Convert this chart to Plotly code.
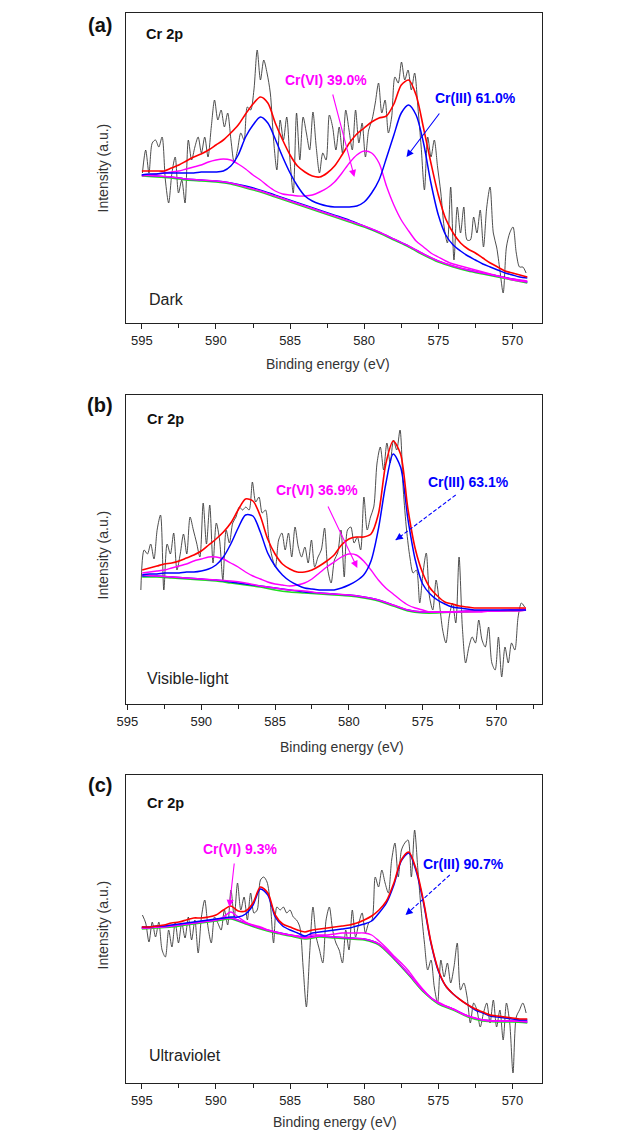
import numpy as np
import plotly.graph_objects as go

W, H = 620, 1133

# ---------------- data (intensity in arbitrary units) ----------------
# Panel (a) Dark
A_RAW_START, A_RAW_STEP = 594.96, 0.2212
A_RAW = [150, 173, 150, 180, 183, 176, 186, 143, 120, 150, 166, 130, 143, 120, 183, 163, 176, 186, 170, 186,
         166, 196, 223, 203, 213, 196, 210, 183, 160, 173, 190, 183, 216, 213, 233, 273, 243, 263, 250, 230,
         183, 153, 203, 183, 206, 163, 130, 210, 163, 206, 190, 173, 211, 176, 150, 170, 163, 208, 196, 173,
         196, 170, 213, 193, 173, 213, 180, 200, 166, 193, 203, 220, 240, 210, 223, 190, 206, 246, 240, 261,
         243, 253, 233, 250, 216, 176, 133, 186, 166, 183, 156, 130, 96, 80, 136, 63, 116, 90, 116, 83,
         83, 106, 90, 113, 76, 116, 136, 90, 76, 53, 30, 76, 90, 96, 70, 56, 56, 50]
A_FIT_START = 595.0
A_ENV = [152, 152, 152, 152, 155, 158, 162, 166, 169, 173, 178, 183, 190, 198, 209, 219, 226, 220, 200, 183,
         168, 157, 151, 147, 146, 150, 157, 168, 180, 189, 195, 201, 205, 207, 219, 238, 243, 228, 195, 160,
         128, 104, 90, 80, 74, 70, 65, 60, 56, 52, 50, 48, 46]
A_CR3 = [148, 149, 149, 150, 150, 150, 150, 150, 151, 151, 151, 152, 157, 168, 186, 198, 206, 200, 184, 166,
         150, 137, 127, 122, 119, 117, 116, 116, 116, 117, 121, 130, 143, 165, 188, 210, 218, 208, 180, 140,
         108, 88, 78, 72, 67, 63, 59, 56, 53, 50, 48, 46, 45]
A_CR6 = [147, 148, 149, 150, 151, 152, 154, 156, 158, 161, 163, 164, 163, 159, 154, 148, 143, 137, 132, 129,
         128, 127, 127, 128, 131, 135, 141, 150, 160, 168, 172, 170, 160, 137, 118, 103, 92, 82, 76, 70,
         66, 62, 59, 57, 55, 53, 51, 49, 47, 45, 43, 42, 41]
A_BG_GREEN = [147, 146, 145, 143, 142, 141, 139, 135, 131, 126, 121, 116, 111, 106, 101, 96, 90, 83, 76, 68,
              61, 56, 52, 49, 46, 43, 40]
A_BG_BLUE = [148, 147, 146, 144, 143, 142, 140, 137, 133, 128, 123, 118, 113, 108, 103, 97, 91, 84, 77, 69,
             62, 57, 53, 50, 47, 44, 41]
A_BG_MAG = [148, 147, 146, 144, 143, 142, 140, 136, 132, 127, 122, 117, 112, 107, 102, 97, 91, 84, 77, 69,
            62, 57, 53, 50, 47, 44, 42]

# Panel (b) Visible-light
B_RAW_START, B_RAW_STEP = 594.09, 0.2222
B_RAW = [114, 154, 150, 160, 145, 175, 189, 114, 160, 150, 171, 134, 150, 170, 150, 187, 174, 161, 147, 201,
         160, 199, 141, 181, 164, 124, 174, 161, 181, 187, 197, 194, 197, 194, 222, 202, 207, 191, 194, 165,
         147, 137, 164, 171, 154, 171, 147, 177, 157, 147, 157, 141, 164, 137, 147, 154, 176, 134, 121, 144,
         151,
         174, 127, 174, 177, 161, 167, 154, 207, 174, 187, 197, 241, 257, 234, 261, 241, 264, 254, 274, 214,
         174, 147, 131, 134, 101, 131, 151, 107, 94, 124, 101, 74, 61, 87, 101, 81, 147, 77, 41, 57,
         67, 61, 84, 64, 57, 77, 41, 34, 67, 27, 57, 41, 61, 54, 87, 101, 97]
B_FIT_START = 594.0
B_ENV = [134, 136, 138, 140, 141, 143, 146, 149, 153, 159, 165, 172, 181, 194, 205, 203, 188, 165, 150, 140,
         135, 132, 132, 134, 138, 143, 149, 159, 165, 167, 167, 170, 190, 240, 263, 250, 195, 155, 131, 116,
         108, 102, 100, 98, 97, 96, 96, 96, 96, 96, 96, 96, 96]
B_CR3 = [129, 130, 130, 131, 131, 131, 132, 132, 133, 135, 139, 147, 160, 176, 189, 188, 172, 151, 138, 129,
         123, 119, 116, 115, 114, 114, 114, 116, 119, 123, 129, 143, 175, 220, 250, 237, 185, 144, 120, 110,
         104, 100, 97, 96, 95, 94, 94, 94, 94, 94, 94, 94, 94]
B_CR6 = [131, 132, 133, 134, 136, 138, 140, 143, 145, 147, 147, 145, 141, 137, 132, 128, 125, 122, 120, 119,
         118, 119, 121, 125, 131, 137, 142, 147, 150, 149, 143, 134, 124, 116, 110, 104, 99, 96, 94, 92,
         92, 92, 92, 92, 92, 92, 92, 93, 93, 93, 93, 93, 94]
B_BG_GREEN = [127, 127, 126, 125, 124, 123, 121, 119, 117, 114, 112, 111, 110, 109, 108, 106, 103, 98, 93, 91,
              91, 92, 92, 93, 93, 93, 94]
B_BG_BLUE = [128, 128, 127, 126, 125, 124, 122, 120, 118, 116, 114, 112, 111, 110, 109, 107, 104, 99, 94, 92,
             92, 92, 93, 93, 93, 94, 94]
B_BG_MAG = [129, 128, 127, 126, 125, 124, 123, 121, 118, 116, 114, 113, 111, 110, 109, 107, 104, 99, 94, 92,
            92, 92, 93, 93, 93, 94, 95]

# Panel (c) Ultraviolet
C_RAW_START, C_RAW_STEP = 594.96, 0.2212
C_RAW = [168, 160, 141, 161, 146, 161, 133, 126, 153, 136, 161, 140, 160, 145, 166, 143, 163, 130, 166, 183,
         156, 140, 166, 160, 153, 173, 158, 193, 166, 200, 173, 186, 163, 190, 170, 173, 203, 206, 201, 180,
         140, 176, 173, 176, 170, 173, 166, 163, 156, 116, 76, 130, 176, 146, 133, 120, 163, 176, 153, 140,
         133, 120, 153, 133, 173, 146, 160, 170, 150, 160, 163, 206, 196, 213, 200, 190, 223, 240, 206, 233,
         240, 243, 206, 253, 213, 173, 140, 113, 123, 96, 80, 123, 106, 120, 100, 116, 140, 93, 100, 86,
         60, 80, 73, 56, 70, 80, 60, 83, 56, 73, 43, 80, 60, 10, 66, 73, 80, 70]
C_FIT_START = 595.0
C_ENV = [156, 156, 157, 158, 160, 161, 163, 165, 165, 166, 168, 173, 177, 172, 172, 180, 196, 190, 168, 159,
         156, 153, 151, 153, 154, 155, 156, 157, 158, 160, 163, 167, 173, 182, 200, 223, 231, 214, 182, 141,
         113, 97, 89, 83, 78, 74, 71, 68, 67, 66, 65, 64, 64]
C_CR3 = [156, 156, 157, 157, 158, 159, 160, 161, 162, 163, 164, 165, 166, 166, 169, 178, 194, 188, 166, 157,
         153, 150, 147, 150, 151, 152, 153, 154, 155, 157, 159, 162, 170, 180, 198, 222, 230, 212, 180, 140,
         112, 97, 89, 83, 78, 73, 70, 67, 66, 65, 64, 63, 63]
C_CR6 = [155, 155, 156, 156, 157, 158, 159, 160, 161, 162, 163, 166, 171, 166, 161, 158, 156, 153, 151, 149,
         148, 147, 145, 148, 148, 148, 149, 150, 150, 150, 150, 148, 142, 135, 127, 120, 112, 102, 93, 85,
         81, 77, 74, 70, 67, 65, 63, 62, 62, 62, 62, 62, 62]
C_BG_GREEN = [154, 155, 156, 158, 160, 162, 164, 159, 154, 150, 147, 144, 146, 145, 144, 143, 138, 124, 108, 91,
              79, 73, 66, 62, 61, 61, 60]
C_BG_BLUE = [155, 156, 157, 159, 161, 163, 165, 160, 155, 151, 148, 146, 147, 146, 145, 144, 139, 125, 109, 92,
             80, 74, 67, 63, 62, 62, 61]
C_BG_MAG = [155, 156, 157, 159, 161, 163, 165, 160, 155, 151, 148, 145, 147, 146, 145, 144, 139, 125, 109, 92,
            80, 74, 67, 63, 62, 62, 61]

PANEL_LABELS = ["(a)", "(b)", "(c)"]
CONDITIONS = ["Dark", "Visible-light", "Ultraviolet"]
CR6_TEXT = ["Cr(VI) 39.0%", "Cr(VI) 36.9%", "Cr(VI) 9.3%"]
CR3_TEXT = ["Cr(III) 61.0%", "Cr(III) 63.1%", "Cr(III) 90.7%"]
X_RANGES = [[596.06, 567.99], [595.09, 566.9], [596.06, 567.99]]
Y_RANGES = [[0, 310], [0, 309], [0, 308]]

# ---------------- layout geometry (pixels) ----------------
FRAME_LR = (118, 541)
FRAMES_TB = [(13, 323), (395, 704), (775, 1083)]

FONT = "Liberation Sans, Arial, sans-serif"
RED, BLUE, MAG, GREEN, RAW = "#ff0000", "#0000ff", "#ff00ff", "#22dd22", "#3a3a3a"


def px(x, y):
    return x / W, 1 - y / H


def grid(start, step, n):
    return np.round(start - step * np.arange(n), 4)


panels = [
    dict(raw=A_RAW, rs=A_RAW_START, rstep=A_RAW_STEP, fs=A_FIT_START, env=A_ENV, cr3=A_CR3, cr6=A_CR6,
         g=A_BG_GREEN, bb=A_BG_BLUE, bm=A_BG_MAG),
    dict(raw=B_RAW, rs=B_RAW_START, rstep=B_RAW_STEP, fs=B_FIT_START, env=B_ENV, cr3=B_CR3, cr6=B_CR6,
         g=B_BG_GREEN, bb=B_BG_BLUE, bm=B_BG_MAG),
    dict(raw=C_RAW, rs=C_RAW_START, rstep=C_RAW_STEP, fs=C_FIT_START, env=C_ENV, cr3=C_CR3, cr6=C_CR6,
         g=C_BG_GREEN, bb=C_BG_BLUE, bm=C_BG_MAG),
]

fig = go.Figure()
layout = dict(width=W, height=H, margin=dict(l=0, r=0, t=0, b=0), paper_bgcolor="white",
              plot_bgcolor="white", showlegend=False, font=dict(family=FONT, color="#222"))

for i, p in enumerate(panels):
    xa = "x" if i == 0 else f"x{i+1}"
    ya = "y" if i == 0 else f"y{i+1}"
    xr = grid(p["rs"], p["rstep"], len(p["raw"]))
    xf = grid(p["fs"], 0.5, len(p["env"]))
    xb = grid(p["fs"], 1.0, len(p["g"]))

    def add(x, y, color, width, shape="spline"):
        fig.add_trace(go.Scatter(x=x, y=y, mode="lines", xaxis=xa, yaxis=ya, hoverinfo="skip",
                                 line=dict(color=color, width=width, shape=shape, smoothing=0.8)))

    add(xr, p["raw"], RAW, 0.9)
    add(xb, p["g"], GREEN, 1.6)
    add(xb, p["bb"], BLUE, 1.3)
    add(xb, p["bm"], MAG, 1.5)
    add(xf, p["cr6"], MAG, 1.4)
    add(xf, p["cr3"], BLUE, 1.5)
    add(xf, p["env"], RED, 1.6)

    top, bot = FRAMES_TB[i]
    x0, y0 = px(FRAME_LR[0], bot)
    x1, y1 = px(FRAME_LR[1], top)
    layout["xaxis" if i == 0 else f"xaxis{i+1}"] = dict(
        domain=[x0, x1], anchor=ya, range=X_RANGES[i], showgrid=False, zeroline=False,
        showline=True, linecolor="#222", linewidth=1.3, mirror=True,
        ticks="outside", ticklen=5, tickwidth=1, tickcolor="#222", dtick=5, tick0=570,
        tickfont=dict(family=FONT, size=13, color="#222"),
        minor=dict(dtick=2.5, tick0=570, ticks="outside", ticklen=4, tickcolor="#222"))
    layout["yaxis" if i == 0 else f"yaxis{i+1}"] = dict(
        domain=[y0, y1], anchor=xa, range=Y_RANGES[i], showgrid=False, zeroline=False,
        showline=True, linecolor="#222", linewidth=1.3, mirror=True,
        ticks="", showticklabels=False)

fig.update_layout(**layout)

ann = []
shapes = []


def text(x, y, s, size, color="#222", bold=False, anchor="center", angle=0):
    ax_, ay_ = px(x, y)
    ann.append(dict(x=ax_, y=ay_, xref="paper", yref="paper", text=f"<b>{s}</b>" if bold else s,
                    showarrow=False, xanchor=anchor, yanchor="middle", textangle=angle,
                    font=dict(family=FONT, size=size, color=color)))


def arrow(tail, head, color, width=1.1, dashed=False):
    hx, hy = px(*head)
    if dashed:
        tx, ty = px(*tail)
        shapes.append(dict(type="line", xref="paper", yref="paper", x0=tx, y0=ty, x1=hx, y1=hy,
                           line=dict(color=color, width=width, dash="4px,2px")))
        dx, dy = tail[0] - head[0], tail[1] - head[1]
        n = (dx * dx + dy * dy) ** 0.5
        tail = (head[0] + dx / n * 6, head[1] + dy / n * 6)
    ann.append(dict(x=hx, y=hy, xref="paper", yref="paper", text="", showarrow=True,
                    ax=tail[0] - head[0], ay=tail[1] - head[1], axref="pixel", ayref="pixel",
                    arrowhead=2, arrowsize=1.3, arrowwidth=width, arrowcolor=color))


PANEL_LABEL_POS = [(91, 25), (91, 405), (91, 785)]
CR2P_POS = [(136, 34), (137, 419), (137, 803)]
COND_POS = [(139, 300), (137, 678), (139, 1055)]
YTITLE_POS = [(95, 168), (95, 555), (95, 925)]
XTITLE_POS = [(323, 364), (337, 747), (330, 1122)]
CR6_POS = [(321, 80), (312, 490), (234, 849)]
CR3_POS = [(473, 98), (466, 482), (461, 864)]
CR6_ARROWS = [((328, 93), (350, 177)), ((323, 505), (353, 568)), ((228, 862), (223, 907))]
CR3_ARROWS = [((437, 112), (403, 157)), ((453, 495), (392, 540)), ((447, 875), (402, 915))]
CR3_DASHED = [False, True, True]

for i in range(3):
    text(*PANEL_LABEL_POS[i], PANEL_LABELS[i], 20, "#111", bold=True)
    text(*CR2P_POS[i], "Cr 2p", 14.5, "#111", bold=True, anchor="left")
    text(*COND_POS[i], CONDITIONS[i], 16, "#222", anchor="left")
    text(*YTITLE_POS[i], "Intensity (a.u.)", 14, "#333", angle=-90)
    text(*XTITLE_POS[i], "Binding energy (eV)", 14, "#333")
    text(*CR6_POS[i], CR6_TEXT[i], 14, MAG, bold=True)
    text(*CR3_POS[i], CR3_TEXT[i], 14, BLUE, bold=True)
    arrow(*CR6_ARROWS[i], MAG)
    arrow(*CR3_ARROWS[i], BLUE, dashed=CR3_DASHED[i])

fig.update_layout(annotations=ann, shapes=shapes)
fig.write_html("out.html", config={"displayModeBar": False},
               post_script="document.body.style.margin='0px';document.body.style.overflow='hidden';")
